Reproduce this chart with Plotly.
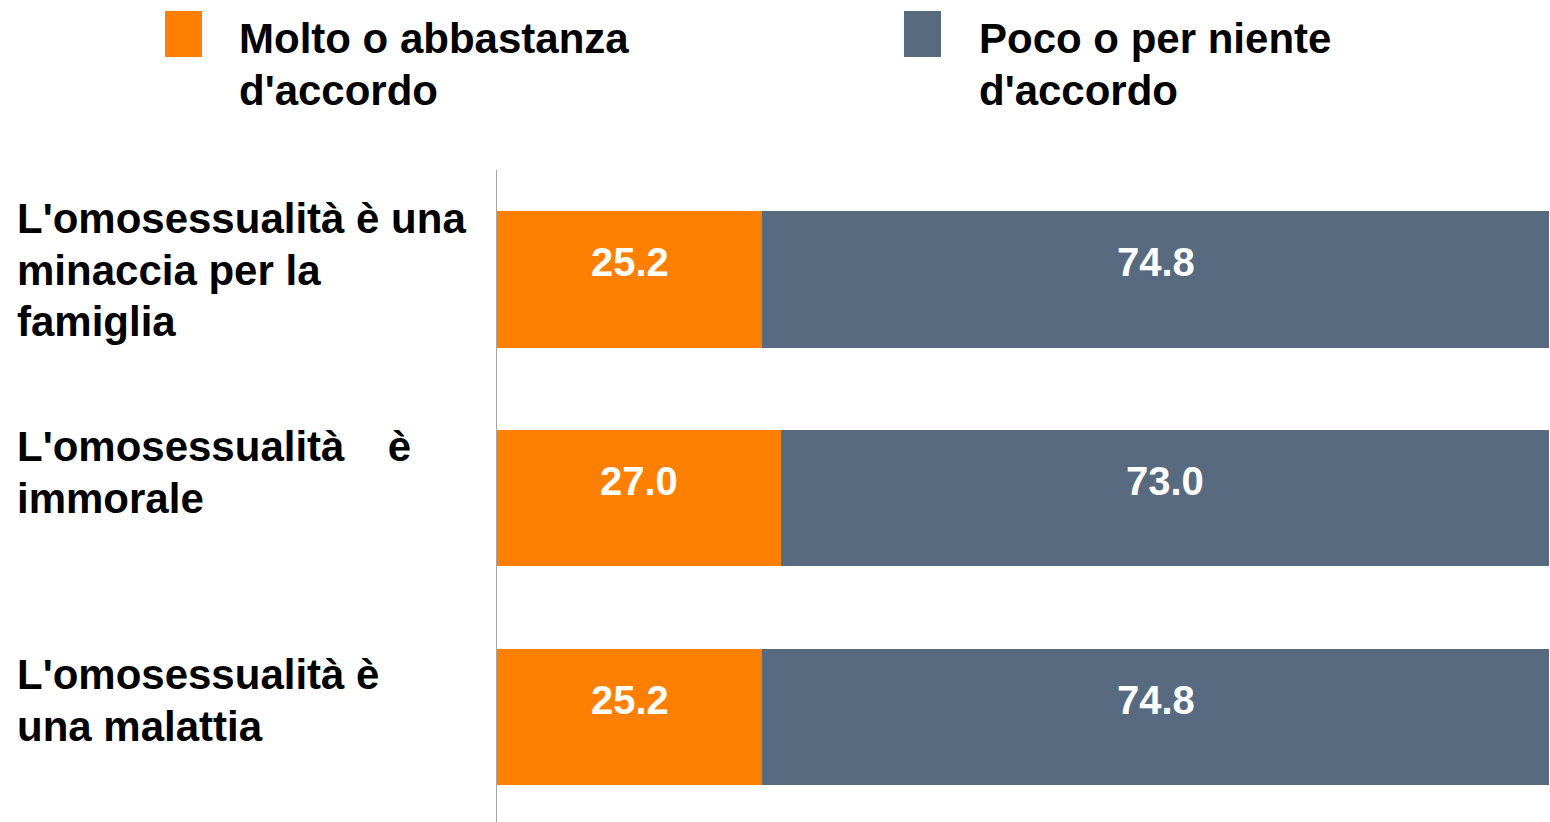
import plotly.graph_objects as go

categories = [
    "L'omosessualità è una<br>minaccia per la<br>famiglia",
    "L'omosessualità\u00a0\u00a0\u00a0\u2009è<br>immorale",
    "L'omosessualità è<br>una malattia",
]
series_names = ["Molto o abbastanza<br>d'accordo", "Poco o per niente<br>d'accordo"]
agree = [25.2, 27.0, 25.2]
disagree = [74.8, 73.0, 74.8]
colors = ["#FF8000", "#586A80"]

W, H = 1550, 822
PL, PR, PT, PB = 497, 1549, 170, 822  # plot area in screen pixels
pw, ph = PR - PL, PB - PT


def px(x):
    return (x - PL) / pw


def py(y):
    return (PB - y) / ph


ids = [0, 1, 2]
fig = go.Figure()
for vals, name, col in [(agree, series_names[0], colors[0]), (disagree, series_names[1], colors[1])]:
    fig.add_trace(go.Bar(
        y=ids, x=vals, orientation="h", name=name, marker=dict(color=col, line=dict(width=0)),
        width=0.624, showlegend=False, hoverinfo="skip",
    ))

font_main = dict(family="Liberation Sans, Arial, sans-serif", size=42, color="black", weight="bold")
font_val = dict(family="Liberation Sans, Arial, sans-serif", size=40, color="white", weight="bold")

annotations = []

# value labels, positioned from the data (segment midpoints), lifted slightly as in the original
for i in ids:
    starts = [0, agree[i]]
    for s, v in zip(starts, [agree[i], disagree[i]]):
        annotations.append(dict(text=f"{v:.1f}", xref="x", yref="y", x=s + v / 2, y=i,
                                xanchor="center", yanchor="middle", yshift=17, showarrow=False,
                                font=font_val))


def add_block(text, x, cy, spacing):
    lines = text.split("<br>")
    n = len(lines)
    for i, ln in enumerate(lines):
        yc = cy + (i - (n - 1) / 2) * spacing
        annotations.append(dict(text=ln, xref="paper", yref="paper", x=px(x), y=py(yc),
                                xanchor="left", yanchor="middle", align="left", showarrow=False,
                                font=font_main))


label_centers = [270, 472.5, 700.5]
for cat, cy in zip(categories, label_centers):
    add_block(cat, 15, cy, 51.5)

# legend (manual)
shapes = []
for col, x0 in [(colors[0], 165), (colors[1], 904)]:
    shapes.append(dict(type="rect", xref="paper", yref="paper", x0=px(x0), x1=px(x0 + 37),
                       y0=py(57), y1=py(11), fillcolor=col, line=dict(width=0)))
for name, tx in zip(series_names, [237, 977]):
    add_block(name, tx, 64.5, 53)

fig.update_layout(
    width=W, height=H, barmode="stack", bargap=0,
    margin=dict(l=PL, r=W - PR, t=PT, b=H - PB, pad=0),
    paper_bgcolor="white", plot_bgcolor="white",
    xaxis=dict(range=[0, 100], visible=False, fixedrange=True),
    yaxis=dict(range=[2.48, -0.5], showticklabels=False, showgrid=False, zeroline=False,
               showline=True, linecolor="#A6A6A6", linewidth=1, ticks="", fixedrange=True),
    annotations=annotations, shapes=shapes, showlegend=False,
)

fig.write_html("out.html", config={"displayModeBar": False},
               post_script="document.body.style.margin='0';document.body.style.overflow='hidden';")
